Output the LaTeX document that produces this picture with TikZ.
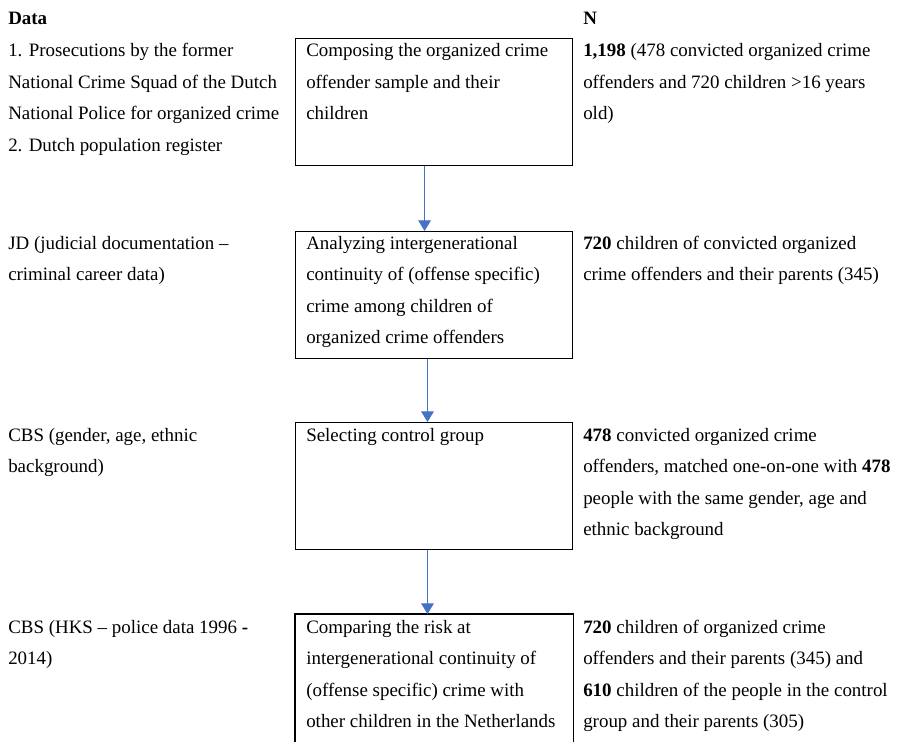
\documentclass[tikz,border=0pt]{standalone}
\usepackage{fontspec}
\setmainfont{Liberation Serif}
\usetikzlibrary{arrows.meta}
\definecolor{flowblue}{HTML}{4472C4}

\begin{document}
\begin{tikzpicture}[x=0.75pt, y=-0.75pt, >={Triangle[width=9.5pt,length=8pt]},
    every node/.style={inner sep=0pt, font=\fontsize{14.2}{23.6}\selectfont},
    txt/.style={anchor=base west, align=flush left, text width=#1},
    txt/.default=240pt,
    stagebox/.style={draw, line width=0.8pt, anchor=north west, minimum width=207.75pt, minimum height=95.25pt},
    flow/.style={->, draw=flowblue, fill=flowblue, line width=0.8pt}]
    \useasboundingbox (0,0) rectangle (899,742);

    % 1. Kopfzeilen
    \node[txt] (hdata) at (8,24.5) {\textbf{Data}};
    \node[txt] (hn) at (583,24.5) {\textbf{N}};

    % 2. Kaesten
    \node[stagebox] (compose) at (295,38) {};
    \node[stagebox] (analyze) at (295,231) {};
    \node[stagebox] (select) at (295,422) {};
    \node[stagebox, draw=none, minimum height=96pt] (compare) at (295,614) {};
    \draw[line width=0.8pt] (compare.south west) |- (compare.north east) -- (compare.south east);

    % 3. Text in den Kaesten
    \node[txt=205pt] (compose-t) at (306,57) {Composing the organized crime\\offender sample and their\\children};
    \node[txt=205pt] (analyze-t) at (306,249.5) {Analyzing intergenerational\\continuity of (offense specific)\\crime among children of\\organized crime offenders};
    \node[txt=205pt] (select-t) at (306,441.5) {Selecting control group};
    \node[txt=205pt] (compare-t) at (306,633.5) {Comparing the risk at\\intergenerational continuity of\\(offense specific) crime with\\other children in the Netherlands};

    % 4. Datenquellen (links)
    \node[txt] (data1) at (8,57) {1. Prosecutions by the former\\National Crime Squad of the Dutch\\National Police for organized crime\\2. Dutch population register};
    \node[txt] (data2) at (8,249.5) {JD (judicial documentation --\\criminal career data)};
    \node[txt] (data3) at (8,441.5) {CBS (gender, age, ethnic\\background)};
    \node[txt] (data4) at (8,633.5) {CBS (HKS -- police data 1996 \textbf{-}\\2014)};

    % 5. Fallzahlen (rechts)
    \node[txt] (n1) at (583,57) {\textbf{1,198} (478 convicted organized crime\\offenders and 720 children >16 years\\old)};
    \node[txt] (n2) at (583,249.5) {\textbf{720} children of convicted organized\\crime offenders and their parents (345)};
    \node[txt] (n3) at (583,441.5) {\textbf{478} convicted organized crime\\offenders, matched one-on-one with \textbf{478}\\people with the same gender, age and\\ethnic background};
    \node[txt] (n4) at (583,633.5) {\textbf{720} children of organized crime\\offenders and their parents (345) and\\\textbf{610} children of the people in the control\\group and their parents (305)};

    % 6. Pfeile
    \draw[flow] ([xshift=-7.1pt]compose.south) -- ([xshift=-7.1pt]analyze.north);
    \draw[flow] ([xshift=-4.9pt]analyze.south) -- ([xshift=-4.9pt]select.north);
    \draw[flow] ([xshift=-4.9pt]select.south) -- ([xshift=-4.9pt]compare.north);
\end{tikzpicture}
\end{document}
